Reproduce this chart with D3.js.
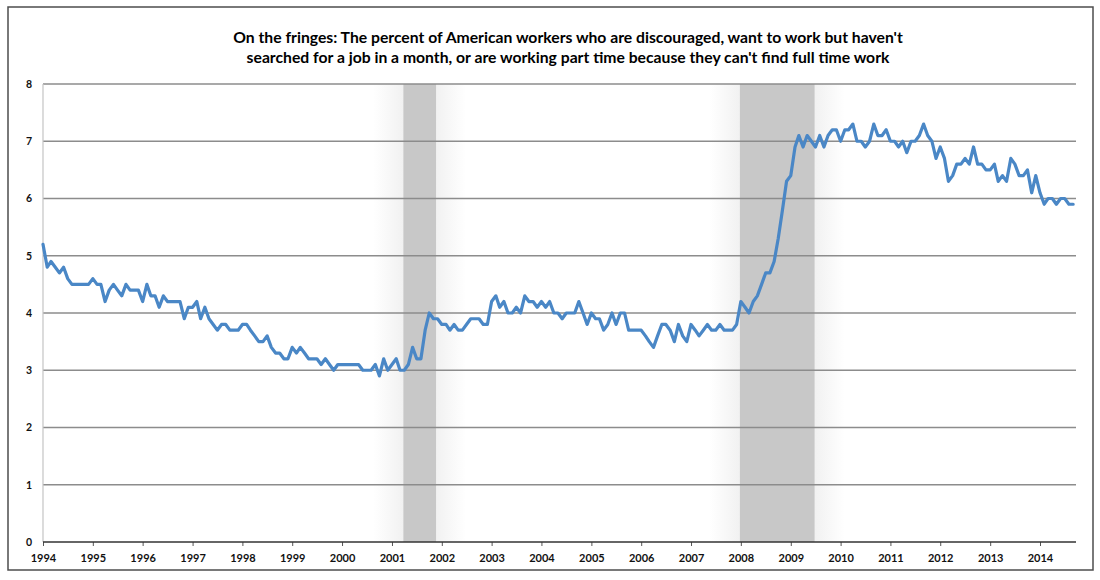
<!DOCTYPE html>
<html>
<head>
<meta charset="utf-8">
<script src="https://cdn.jsdelivr.net/npm/d3@7"></script>
<style>
  body { margin: 0; background: #fff; }
  text { font-family: Lato, "Open Sans", sans-serif; }
</style>
</head>
<body>
<div id="chart"></div>
<script>
// chart data ////////
const titleLines = [
  "On the fringes: The percent of American workers who are discouraged, want to work but haven't",
  "searched for a job in a month, or are working part time because they can't find full time work"
]
const firstMonth = "1994-01"
// monthly values, one row per year
const values = [
  5.2,4.8,4.9,4.8,4.7,4.8,4.6,4.5,4.5,4.5,4.5,4.5, // 1994
  4.6,4.5,4.5,4.2,4.4,4.5,4.4,4.3,4.5,4.4,4.4,4.4, // 1995
  4.2,4.5,4.3,4.3,4.1,4.3,4.2,4.2,4.2,4.2,3.9,4.1, // 1996
  4.1,4.2,3.9,4.1,3.9,3.8,3.7,3.8,3.8,3.7,3.7,3.7, // 1997
  3.8,3.8,3.7,3.6,3.5,3.5,3.6,3.4,3.3,3.3,3.2,3.2, // 1998
  3.4,3.3,3.4,3.3,3.2,3.2,3.2,3.1,3.2,3.1,3.0,3.1, // 1999
  3.1,3.1,3.1,3.1,3.1,3.0,3.0,3.0,3.1,2.9,3.2,3.0, // 2000
  3.1,3.2,3.0,3.0,3.1,3.4,3.2,3.2,3.7,4.0,3.9,3.9, // 2001
  3.8,3.8,3.7,3.8,3.7,3.7,3.8,3.9,3.9,3.9,3.8,3.8, // 2002
  4.2,4.3,4.1,4.2,4.0,4.0,4.1,4.0,4.3,4.2,4.2,4.1, // 2003
  4.2,4.1,4.2,4.0,4.0,3.9,4.0,4.0,4.0,4.2,4.0,3.8, // 2004
  4.0,3.9,3.9,3.7,3.8,4.0,3.8,4.0,4.0,3.7,3.7,3.7, // 2005
  3.7,3.6,3.5,3.4,3.6,3.8,3.8,3.7,3.5,3.8,3.6,3.5, // 2006
  3.8,3.7,3.6,3.7,3.8,3.7,3.7,3.8,3.7,3.7,3.7,3.8, // 2007
  4.2,4.1,4.0,4.2,4.3,4.5,4.7,4.7,4.9,5.3,5.8,6.3, // 2008
  6.4,6.9,7.1,6.9,7.1,7.0,6.9,7.1,6.9,7.1,7.2,7.2, // 2009
  7.0,7.2,7.2,7.3,7.0,7.0,6.9,7.0,7.3,7.1,7.1,7.2, // 2010
  7.0,7.0,6.9,7.0,6.8,7.0,7.0,7.1,7.3,7.1,7.0,6.7, // 2011
  6.9,6.7,6.3,6.4,6.6,6.6,6.7,6.6,6.9,6.6,6.6,6.5, // 2012
  6.5,6.6,6.3,6.4,6.3,6.7,6.6,6.4,6.4,6.5,6.1,6.4, // 2013
  6.1,5.9,6.0,6.0,5.9,6.0,6.0,5.9,5.9              // 2014
]
const recessionStarts = ["2001-03-25", "2007-12-25"]
const recessionEnds = ["2001-11-20", "2009-06-25"]
const yTicks = [0, 1, 2, 3, 4, 5, 6, 7, 8]
const yearTicks = d3.range(1994, 2015)

function drawChart() {

  // 1. data
  const monthParser = d3.timeParse("%Y-%m")
  const dayParser = d3.timeParse("%Y-%m-%d")
  const start = monthParser(firstMonth)
  const dataset = values.map((v, i) => ({ date: d3.timeMonth.offset(start, i), value: v }))
  const recessions = recessionStarts.map((s, i) => ({ start: dayParser(s), end: dayParser(recessionEnds[i]) }))

  const xAccessor = d => d.date
  const yAccessor = d => d.value

  // 2. dimensions
  let dimensions = {
    width: 1100,
    height: 580,
    margin: { top: 84, right: 24, bottom: 38, left: 43 },
  }
  dimensions.boundedWidth = dimensions.width - dimensions.margin.left - dimensions.margin.right
  dimensions.boundedHeight = dimensions.height - dimensions.margin.top - dimensions.margin.bottom

  // 3. canvas
  const wrapper = d3.select("#chart")
    .append("svg")
      .attr("width", dimensions.width)
      .attr("height", dimensions.height)

  wrapper.append("rect")
    .attr("x", 8).attr("y", 7)
    .attr("width", 1085).attr("height", 563)
    .attr("fill", "#fff")
    .attr("stroke", "#4d4d4d")
    .attr("stroke-width", 1.5)

  const bounds = wrapper.append("g")
    .attr("transform", `translate(${dimensions.margin.left},${dimensions.margin.top})`)

  // 4. scales (ticks on each January, Jan 1994 .. Jan 2014)
  const xScale = d3.scaleTime()
    .domain([new Date(1994, 0, 1), new Date(2014, 0, 1)])
    .range([0, 997])

  const yScale = d3.scaleLinear()
    .domain([0, 8])
    .range([dimensions.boundedHeight, 0])

  // recession shading with soft edges
  const defs = wrapper.append("defs")
  const glowL = defs.append("linearGradient").attr("id", "glowL")
  glowL.append("stop").attr("offset", "0%").attr("stop-color", "#c8c8c8").attr("stop-opacity", 0)
  glowL.append("stop").attr("offset", "100%").attr("stop-color", "#c8c8c8").attr("stop-opacity", 0.25)
  const glowR = defs.append("linearGradient").attr("id", "glowR")
  glowR.append("stop").attr("offset", "0%").attr("stop-color", "#c8c8c8").attr("stop-opacity", 0.25)
  glowR.append("stop").attr("offset", "100%").attr("stop-color", "#c8c8c8").attr("stop-opacity", 0)

  const glow = 30
  const shade = bounds.append("g")
  recessions.forEach(r => {
    const x0 = xScale(r.start), x1 = xScale(r.end)
    shade.append("rect")
      .attr("x", x0 - glow).attr("y", 0)
      .attr("width", glow).attr("height", dimensions.boundedHeight)
      .attr("fill", "url(#glowL)")
    shade.append("rect")
      .attr("x", x1).attr("y", 0)
      .attr("width", glow).attr("height", dimensions.boundedHeight)
      .attr("fill", "url(#glowR)")
    shade.append("rect")
      .attr("x", x0).attr("y", 0)
      .attr("width", x1 - x0).attr("height", dimensions.boundedHeight)
      .attr("fill", "#c8c8c8")
  })

  // gridlines
  bounds.append("g")
    .selectAll("line")
    .data(yTicks.filter(t => t > 0))
    .join("line")
      .attr("x1", 0)
      .attr("x2", dimensions.boundedWidth)
      .attr("y1", d => yScale(d))
      .attr("y2", d => yScale(d))
      .attr("stroke", "#8c8c8c")
      .attr("stroke-width", 1.5)

  // y axis line
  bounds.append("line")
    .attr("x1", 0).attr("x2", 0)
    .attr("y1", 0).attr("y2", dimensions.boundedHeight)
    .attr("stroke", "#c4c4c4")
    .attr("stroke-width", 1.2)

  // 5. the line
  const lineGenerator = d3.line()
    .x(d => xScale(xAccessor(d)))
    .y(d => yScale(yAccessor(d)))

  bounds.append("path")
    .attr("d", lineGenerator(dataset))
    .attr("fill", "none")
    .attr("stroke", "#4a87c6")
    .attr("stroke-width", 3.2)
    .attr("stroke-linejoin", "round")
    .attr("stroke-linecap", "round")

  // 6. axes
  const xAxisGenerator = d3.axisBottom(xScale)
    .tickValues(yearTicks.map(y => new Date(y, 0, 1)))
    .tickFormat(d3.timeFormat("%Y"))
    .tickSize(4)
    .tickSizeOuter(0)
    .tickPadding(8)

  const xAxis = bounds.append("g")
    .attr("transform", `translate(0,${dimensions.boundedHeight})`)
    .call(xAxisGenerator)
  xAxis.select(".domain").remove()
  xAxis.selectAll(".tick line").attr("stroke", "#555")
  xAxis.selectAll("text")
    .attr("fill", "#111")
    .style("font-size", "11px")
    .style("font-weight", "bold")
  xAxis.append("line")
    .attr("x1", 0).attr("x2", dimensions.boundedWidth)
    .attr("stroke", "#333")
    .attr("stroke-width", 1.4)

  const yAxisGenerator = d3.axisLeft(yScale)
    .tickValues(yTicks)
    .tickSize(0)
    .tickPadding(11)

  const yAxis = bounds.append("g").call(yAxisGenerator)
  yAxis.select(".domain").remove()
  yAxis.selectAll("text")
    .attr("fill", "#111")
    .style("font-size", "10.5px")
    .style("font-weight", "bold")

  // title, fitted to the width of the original
  const titleWidths = [670, 643]
  const titleY = [43, 63]
  titleLines.forEach((line, i) => {
    const t = wrapper.append("text")
      .attr("x", 568)
      .attr("y", titleY[i])
      .attr("text-anchor", "middle")
      .style("font-size", "16px")
      .style("font-weight", "bold")
      .attr("fill", "#000")
      .text(line)
    const w = t.node().getComputedTextLength()
    t.style("font-size", `${16 * titleWidths[i] / w}px`)
  })
}

drawChart()
</script>
</body>
</html>
